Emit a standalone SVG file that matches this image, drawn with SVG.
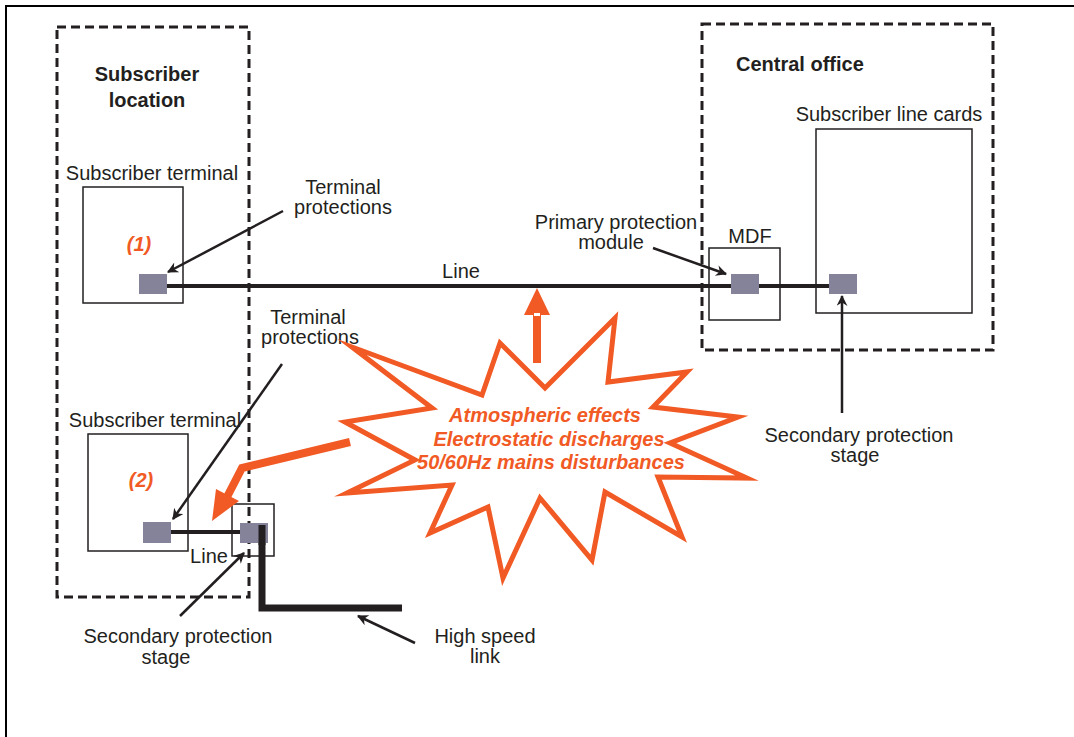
<svg xmlns="http://www.w3.org/2000/svg" width="1074" height="737" viewBox="0 0 1074 737">
<defs>
<style>
.t{font-family:"Liberation Sans",Arial,sans-serif;font-size:20px;fill:#231f20}
.b{font-weight:bold}
.o{font-family:"Liberation Sans",Arial,sans-serif;font-size:20px;font-weight:bold;font-style:italic;fill:#f15a24}
.dash{fill:none;stroke:#231f20;stroke-width:3;stroke-dasharray:9 5}
.box{fill:none;stroke:#231f20;stroke-width:1.5}
.prot{fill:#858399}
.wire{stroke:#231f20;stroke-width:4;fill:none}
.ptr{stroke:#231f20;stroke-width:2.5;fill:none;marker-end:url(#ah)}
</style>
<marker id="ah" viewBox="0 0 10 10" refX="9" refY="5" markerWidth="12" markerHeight="11" orient="auto" markerUnits="userSpaceOnUse">
<path d="M0,0 L10,5 L0,10 L3,5 Z" fill="#231f20"/>
</marker>
</defs>
<rect width="1074" height="737" fill="#fff"/>
<path d="M6,737 V6 H1074" fill="none" stroke="#000" stroke-width="2"/>

<g id="subscriber-location">
<rect class="dash" x="57" y="27" width="192" height="570"/>
<text class="t b" x="147" y="81" text-anchor="middle">Subscriber</text>
<text class="t b" x="147" y="107" text-anchor="middle">location</text>
</g>

<g id="central-office">
<rect class="dash" x="702" y="24" width="291" height="326"/>
<text class="t b" x="736" y="71">Central office</text>
</g>

<g id="terminal1">
<text class="t" x="152" y="180" text-anchor="middle">Subscriber terminal</text>
<rect class="box" x="83" y="187" width="100" height="116"/>
<text class="o" x="139" y="251" text-anchor="middle">(1)</text>
</g>

<g id="terminal2">
<text class="t" x="155" y="427" text-anchor="middle">Subscriber terminal</text>
<rect class="box" x="88" y="434" width="100" height="117"/>
<text class="o" x="141" y="487" text-anchor="middle">(2)</text>
</g>

<g id="mdf">
<text class="t" x="750" y="243" text-anchor="middle">MDF</text>
<rect class="box" x="709" y="248" width="71" height="72"/>
</g>

<g id="line-cards">
<text class="t" x="889" y="121" text-anchor="middle">Subscriber line cards</text>
<rect class="box" x="816" y="129" width="156" height="184"/>
</g>

<g id="secondary-box2">
<rect class="box" x="232" y="504" width="42" height="52"/>
</g>

<g id="connectors">
<line class="wire" x1="160" y1="286" x2="835" y2="286"/>
<line class="wire" x1="165" y1="532" x2="245" y2="532"/>
<path d="M262,525 V608 H402" fill="none" stroke="#231f20" stroke-width="7"/>
<line class="ptr" x1="283" y1="211" x2="168" y2="272"/>
<line class="ptr" x1="282" y1="364" x2="173" y2="519"/>
<line class="ptr" x1="653" y1="248" x2="726" y2="274"/>
<line class="ptr" x1="842" y1="413" x2="842" y2="296"/>
<line class="ptr" x1="180" y1="616" x2="244" y2="553"/>
<line class="ptr" x1="415" y1="643" x2="358" y2="616"/>
</g>

<g id="protections">
<rect class="prot" x="139" y="274" width="28" height="20"/>
<rect class="prot" x="731" y="274" width="28" height="20"/>
<rect class="prot" x="829" y="274" width="28" height="20"/>
<rect class="prot" x="143" y="522" width="28" height="21"/>
<rect class="prot" x="240" y="523" width="28" height="20"/>
<line x1="262" y1="525" x2="262" y2="545" stroke="#231f20" stroke-width="7"/>
</g>

<g id="labels">
<text class="t" x="343" y="194" text-anchor="middle">Terminal</text>
<text class="t" x="343" y="214" text-anchor="middle">protections</text>
<text class="t" x="461" y="278" text-anchor="middle">Line</text>
<text class="t" x="616" y="229" text-anchor="middle">Primary protection</text>
<text class="t" x="611" y="249" text-anchor="middle">module</text>
<text class="t" x="308" y="324" text-anchor="middle">Terminal</text>
<text class="t" x="310" y="344" text-anchor="middle">protections</text>
<text class="t" x="859" y="442" text-anchor="middle">Secondary protection</text>
<text class="t" x="855" y="462" text-anchor="middle">stage</text>
<text class="t" x="209" y="563" text-anchor="middle">Line</text>
<text class="t" x="178" y="643" text-anchor="middle">Secondary protection</text>
<text class="t" x="166" y="664" text-anchor="middle">stage</text>
<text class="t" x="485" y="643" text-anchor="middle">High speed</text>
<text class="t" x="485" y="663" text-anchor="middle">link</text>
</g>

<g id="disturbances">
<polygon points="352,347 482,395 500,343 545,388 615,318 608,382 687,372 653,407 738,417 670,443 747,478 658,477 682,537 605,492 592,560 540,498 503,578 488,507 430,533 452,485 347,493 415,460 345,422 432,408" fill="#fff" stroke="#f15a24" stroke-width="5" stroke-linejoin="miter" stroke-miterlimit="10"/>
<text class="o" x="545" y="422" text-anchor="middle">Atmospheric effects</text>
<text class="o" x="549" y="446" text-anchor="middle">Electrostatic discharges</text>
<text class="o" x="551" y="469" text-anchor="middle">50/60Hz mains disturbances</text>
<rect x="533" y="315" width="8" height="48" fill="#f15a24"/>
<polygon points="524,315 550,315 537,288" fill="#f15a24"/>
<rect x="534" y="313" width="6" height="3" fill="#fff"/>
<polyline points="350,442 242,468 227,497" fill="none" stroke="#f15a24" stroke-width="8" stroke-linejoin="miter"/>
<polygon points="239,501 216,489 212,521" fill="#f15a24"/>
</g>
</svg>
